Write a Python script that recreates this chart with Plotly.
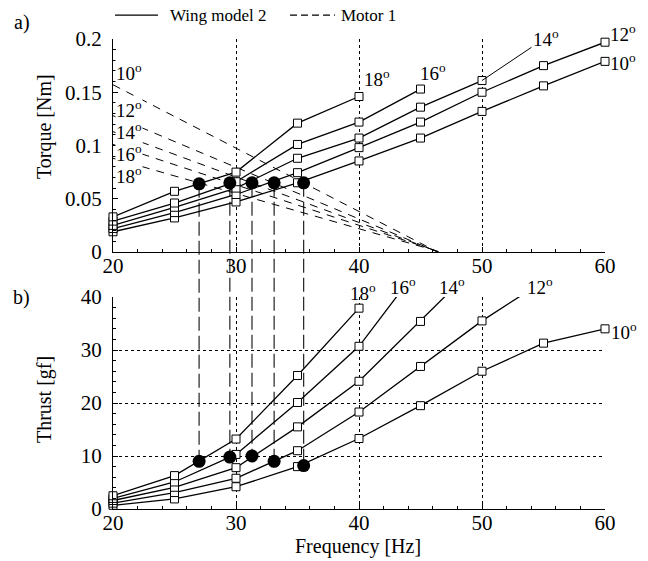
import plotly.graph_objects as go

# ---------------- data ----------------
freq = [20, 25, 30, 35, 40, 45, 50, 55, 60]
angles = [10, 12, 14, 16, 18]

torque_10 = [0.019, 0.032, 0.047, 0.065, 0.0855, 0.107, 0.132, 0.156, 0.179]
torque_12 = [0.022, 0.037, 0.054, 0.0745, 0.098, 0.122, 0.150, 0.175, 0.197]
torque_14 = [0.025, 0.042, 0.060, 0.088, 0.107, 0.136, 0.161]
torque_16 = [0.029, 0.046, 0.066, 0.101, 0.122, 0.153]
torque_18 = [0.033, 0.057, 0.075, 0.121, 0.146]

thrust_10 = [0.7, 1.9, 4.2, 8.0, 13.3, 19.5, 26.0, 31.3, 34.0]
thrust_12 = [1.1, 3.1, 5.8, 11.0, 18.3, 26.9, 35.5, 43.0]
thrust_14 = [1.6, 4.1, 7.8, 15.5, 24.1, 35.4, 47.0]
thrust_16 = [2.0, 5.1, 10.3, 20.1, 30.7, 46.0]
thrust_18 = [2.5, 6.3, 13.2, 25.2, 37.9]

# Motor 1 torque lines (torque at 20 Hz, frequency of zero torque)
motor_start_freq = 20
motor_torque_start = [0.157, 0.128, 0.113, 0.101, 0.088]
motor_zero_freq = [46.4, 46.4, 46.5, 46.6, 46.6]

# operating points (intersection wing / motor)
op_freq = [35.5, 33.1, 31.3, 29.5, 27.0]
op_torque = [0.065, 0.065, 0.065, 0.065, 0.064]
op_thrust = [8.2, 9.0, 10.0, 9.8, 9.0]

torques = [torque_10, torque_12, torque_14, torque_16, torque_18]
thrusts = [thrust_10, thrust_12, thrust_14, thrust_16, thrust_18]

# ---------------- layout constants ----------------
FONT = "Liberation Serif"
TOP_DOM = [0.5468, 1.0]
BOT_DOM = [0.0, 0.451]
TOP_RANGE = [0, 0.2]
BOT_RANGE = [0, 40]
X_RANGE = [20, 60]


def top_paper(v):
    return TOP_DOM[0] + (v - TOP_RANGE[0]) / (TOP_RANGE[1] - TOP_RANGE[0]) * (TOP_DOM[1] - TOP_DOM[0])


def bot_paper(v):
    return BOT_DOM[0] + (v - BOT_RANGE[0]) / (BOT_RANGE[1] - BOT_RANGE[0]) * (BOT_DOM[1] - BOT_DOM[0])


def deg(a):
    return f"{a}<sup>o</sup>"


fig = go.Figure()

line_style = dict(color="black", width=1.3)
sq_marker = dict(symbol="square", size=8, color="white", line=dict(color="black", width=1))
motor_dash = "8px,7px"

# motor lines (top)
for t0, fz in zip(motor_torque_start, motor_zero_freq):
    fig.add_trace(go.Scatter(x=[motor_start_freq, fz], y=[t0, 0], mode="lines",
                             line=dict(color="black", width=1, dash=motor_dash),
                             xaxis="x", yaxis="y", showlegend=False, hoverinfo="skip"))

# wing torque curves (top)
for t in torques:
    fig.add_trace(go.Scatter(x=freq[:len(t)], y=t, mode="lines+markers", line=line_style,
                             marker=sq_marker, cliponaxis=False,
                             xaxis="x", yaxis="y", showlegend=False))

# wing thrust curves (bottom): lines clipped, markers only in range
for h in thrusts:
    fig.add_trace(go.Scatter(x=freq[:len(h)], y=h, mode="lines", line=line_style,
                             xaxis="x2", yaxis="y2", showlegend=False))
    inx = [f for f, v in zip(freq, h) if v <= BOT_RANGE[1]]
    iny = [v for v in h if v <= BOT_RANGE[1]]
    fig.add_trace(go.Scatter(x=inx, y=iny, mode="markers", marker=sq_marker, cliponaxis=False,
                             xaxis="x2", yaxis="y2", showlegend=False))

# operating points
dot = dict(symbol="circle", size=13, color="black")
fig.add_trace(go.Scatter(x=op_freq, y=op_torque, mode="markers", marker=dot,
                         xaxis="x", yaxis="y", showlegend=False))
fig.add_trace(go.Scatter(x=op_freq, y=op_thrust, mode="markers", marker=dot,
                         xaxis="x2", yaxis="y2", showlegend=False))

shapes = []
# vertical dashed connectors
for f, tq, th in zip(op_freq, op_torque, op_thrust):
    shapes.append(dict(type="line", xref="x", yref="paper", x0=f, x1=f,
                       y0=top_paper(tq), y1=bot_paper(th), layer="below",
                       line=dict(color="#222", width=1.2, dash="14px,5px")))

# legend drawn manually
LEG_Y = 1.051
shapes.append(dict(type="line", xref="paper", yref="paper", x0=0.004, x1=0.0915, y0=LEG_Y, y1=LEG_Y,
                   line=dict(color="black", width=1.3)))
shapes.append(dict(type="line", xref="paper", yref="paper", x0=0.3598, x1=0.4512, y0=LEG_Y, y1=LEG_Y,
                   line=dict(color="black", width=1.2, dash="7px,4px")))

ann = []
tf = dict(family=FONT, size=19, color="black")
big = dict(family=FONT, size=20, color="black")
leg_font = dict(family=FONT, size=17, color="black")
ann.append(dict(xref="paper", yref="paper", x=0.1118, y=LEG_Y, xanchor="left", yanchor="middle",
                text="Wing model 2", showarrow=False, font=leg_font))
ann.append(dict(xref="paper", yref="paper", x=0.4593, y=LEG_Y, xanchor="left", yanchor="middle",
                text="Motor 1", showarrow=False, font=leg_font))

# panel labels and axis titles
ann.append(dict(xref="paper", yref="paper", x=-0.185, y=1.036, xanchor="center", yanchor="middle",
                text="a)", showarrow=False, font=big))
ann.append(dict(xref="paper", yref="paper", x=-0.185, y=0.449, xanchor="center", yanchor="middle",
                text="b)", showarrow=False, font=big))
ann.append(dict(xref="paper", yref="paper", x=-0.138, y=0.813, xanchor="center", yanchor="middle",
                text="Torque [Nm]", textangle=-90, showarrow=False, font=big))
ann.append(dict(xref="paper", yref="paper", x=-0.138, y=0.232, xanchor="center", yanchor="middle",
                text="Thrust [gf]", textangle=-90, showarrow=False, font=big))
ann.append(dict(xref="paper", yref="paper", x=0.498, y=-0.079, xanchor="center", yanchor="middle",
                text="Frequency [Hz]", showarrow=False, font=big))

# motor labels on the left of top panel
motor_label_y = [0.169, 0.134, 0.114, 0.093, 0.072]
for a, ly in zip(angles, motor_label_y):
    ann.append(dict(xref="x", yref="y", x=X_RANGE[0], y=ly, xanchor="left", yanchor="middle",
                    xshift=2, text=deg(a), showarrow=False, font=tf, bgcolor="white", borderpad=0))

# top wing labels
last = {a: (freq[len(t) - 1], t[-1]) for a, t in zip(angles, torques)}
ann.append(dict(xref="x", yref="y", x=last[18][0], y=last[18][1], xanchor="left", yanchor="middle",
                xshift=3, yshift=19, text=deg(18), showarrow=False, font=tf))
ann.append(dict(xref="x", yref="y", x=last[16][0], y=last[16][1], xanchor="left", yanchor="middle",
                xshift=-3, yshift=17, text=deg(16), showarrow=False, font=tf))
ann.append(dict(xref="x", yref="y", x=last[14][0], y=last[14][1], ax=64, ay=-43,
                text=deg(14), showarrow=True, arrowhead=0, arrowwidth=1, arrowcolor="black",
                standoff=0, font=tf))
ann.append(dict(xref="x", yref="y", x=last[12][0], y=last[12][1], xanchor="left", yanchor="middle",
                xshift=3, yshift=9, text=deg(12), showarrow=False, font=tf))
ann.append(dict(xref="x", yref="y", x=last[10][0], y=last[10][1], xanchor="left", yanchor="middle",
                xshift=3, yshift=-1, text=deg(10), showarrow=False, font=tf))

# bottom wing labels
ann.append(dict(xref="x2", yref="y2", x=freq[len(thrust_18) - 1], y=thrust_18[-1], xanchor="center",
                yanchor="middle", xshift=4, yshift=16, text=deg(18), showarrow=False, font=tf))
for a, fx in zip([16, 14, 12], [43.6, 47.6, 54.7]):
    ann.append(dict(xref="x2", yref="y2 domain", x=fx, y=1.052, xanchor="center", yanchor="middle",
                    text=deg(a), showarrow=False, font=tf))
ann.append(dict(xref="x2", yref="y2", x=freq[len(thrust_10) - 1], y=thrust_10[-1], xanchor="left",
                yanchor="middle", xshift=4, yshift=-2, text=deg(10), showarrow=False, font=tf))

axis_common = dict(showline=True, linecolor="black", linewidth=1, ticks="inside", ticklen=5,
                   tickcolor="black", tickfont=dict(family=FONT, size=21, color="black"),
                   zeroline=False, mirror=False)
xcommon = dict(axis_common, range=X_RANGE, dtick=10, tick0=20, showgrid=True, gridcolor="black",
               griddash="dot", gridwidth=1, ticklabelstandoff=-5,
               minor=dict(dtick=2, ticks="inside", ticklen=3, tickcolor="black", showgrid=False))

fig.update_layout(
    width=648, height=561,
    margin=dict(l=113, r=43, t=39, b=52),
    paper_bgcolor="white", plot_bgcolor="rgba(0,0,0,0)",
    font=dict(family=FONT, color="black"),
    showlegend=False,
    xaxis=dict(xcommon, anchor="y", domain=[0, 1]),
    xaxis2=dict(xcommon, anchor="y2", domain=[0, 1]),
    yaxis=dict(axis_common, anchor="x", domain=TOP_DOM, range=TOP_RANGE, dtick=0.05, showgrid=False,
               ticklabelstandoff=6,
               minor=dict(dtick=0.01, ticks="inside", ticklen=3, tickcolor="black", showgrid=False)),
    yaxis2=dict(axis_common, anchor="x2", domain=BOT_DOM, range=BOT_RANGE, dtick=10, showgrid=True,
                gridcolor="black", griddash="dot", gridwidth=1, ticklabelstandoff=6,
                minor=dict(dtick=2, ticks="inside", ticklen=3, tickcolor="black", showgrid=False)),
    shapes=shapes,
    annotations=ann,
)

fig.write_html("out.html")
